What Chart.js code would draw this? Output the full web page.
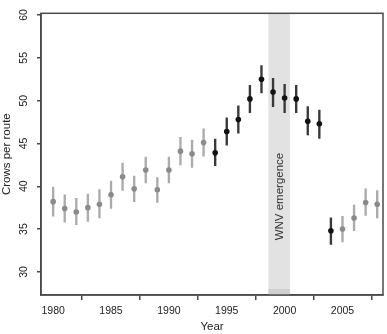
<!DOCTYPE html>
<html>
<head>
<meta charset="utf-8">
<script src="https://cdn.jsdelivr.net/npm/chart.js@4.4.0/dist/chart.umd.min.js"></script>
<style>
  html, body { margin: 0; padding: 0; background: #fff; }
  #wrap { width: 387px; height: 334px; }
</style>
</head>
<body>
<div id="wrap"><canvas id="crowChart" width="387" height="334"></canvas></div>
<script>
// Survey years and estimated crows per route (point, lower, upper)
const years = [1980, 1981, 1982, 1983, 1984, 1985, 1986, 1987, 1988, 1989,
               1990, 1991, 1992, 1993, 1994, 1995, 1996, 1997, 1998, 1999,
               2000, 2001, 2002, 2003, 2004, 2005, 2006, 2007, 2008];
const crows = [38.2, 37.4, 37.0, 37.5, 37.9, 39.0, 41.1, 39.7, 41.9, 39.6,
               41.9, 44.1, 43.8, 45.1, 43.9, 46.4, 47.8, 50.2, 52.5, 51.0,
               50.3, 50.2, 47.6, 47.3, 34.8, 35.0, 36.3, 38.1, 37.9];
const lower = [36.5, 35.8, 35.5, 35.9, 36.3, 37.4, 39.5, 38.2, 40.4, 38.1,
               40.4, 42.5, 42.2, 43.5, 42.4, 44.8, 46.2, 48.6, 50.9, 49.3,
               48.6, 48.6, 46.0, 45.6, 33.2, 33.5, 34.8, 36.6, 36.3];
const upper = [39.9, 39.0, 38.6, 39.1, 39.6, 40.6, 42.7, 41.2, 43.4, 41.0,
               43.4, 45.7, 45.4, 46.7, 45.5, 48.0, 49.4, 51.8, 54.1, 52.6,
               51.9, 51.8, 49.3, 48.9, 36.3, 36.5, 37.8, 39.7, 39.5];
// years drawn in black
const blackYears = [1994, 1995, 1996, 1997, 1998, 1999, 2000, 2001, 2002, 2003, 2004];

const xTicks = [1980, 1985, 1990, 1995, 2000, 2005];
const yTicks = [30, 35, 40, 45, 50, 55, 60];

// WNV emergence band (years)
const wnvBand = [1998.6, 2000.45];
const wnvLabel = 'WNV emergence';

const FONT = "'Liberation Sans', Arial, Helvetica, sans-serif";
const AXIS_COLOR = '#4a4a4a';

const isBlack = years.map(y => blackYears.includes(y));
const pointColors = isBlack.map(b => b ? '#111111' : '#8a8a8a');
const barColors = isBlack.map(b => b ? '#383838' : '#ababab');

// Shaded band behind the data, with its label, and the box round the plot
const bandPlugin = {
    id: 'bandPlugin',
    beforeDatasetsDraw(chart) {
        const { ctx, chartArea, scales: { x, y } } = chart;
        const x0 = x.getPixelForValue(wnvBand[0]);
        const x1 = x.getPixelForValue(wnvBand[1]);
        ctx.save();
        ctx.fillStyle = '#e2e2e2';
        ctx.fillRect(x0, chartArea.top, x1 - x0, chartArea.bottom - chartArea.top);
        ctx.fillStyle = '#cfcfcf';
        ctx.fillRect(x0, chartArea.bottom - 6, x1 - x0, 5);
        // label
        ctx.translate((x0 + x1) / 2 + 1, y.getPixelForValue(38.8));
        ctx.rotate(-Math.PI / 2);
        ctx.fillStyle = '#333';
        ctx.font = '11.5px ' + FONT;
        ctx.textAlign = 'center';
        ctx.textBaseline = 'middle';
        ctx.fillText(wnvLabel, 0, 0);
        ctx.restore();
    },
    afterDraw(chart) {
        const { ctx, chartArea } = chart;
        ctx.save();
        ctx.strokeStyle = AXIS_COLOR;
        ctx.lineWidth = 1.5;
        ctx.strokeRect(chartArea.left, chartArea.top,
            chartArea.right - chartArea.left, chartArea.bottom - chartArea.top);
        ctx.restore();
    }
};

const ctx = document.getElementById('crowChart').getContext('2d');
new Chart(ctx, {
    type: 'scatter',
    data: {
        datasets: [
            {
                type: 'bar',
                label: 'interval',
                data: years.map((yr, i) => ({ x: yr, y: [lower[i], upper[i]] })),
                backgroundColor: barColors,
                barThickness: 1.7,
                grouped: false,
                order: 2
            },
            {
                type: 'scatter',
                label: 'crows',
                data: years.map((yr, i) => ({ x: yr, y: crows[i] })),
                pointBackgroundColor: pointColors,
                pointBorderWidth: 0,
                pointRadius: 2.8,
                order: 1
            }
        ]
    },
    options: {
        responsive: false,
        animation: false,
        layout: { padding: { top: 3, right: 3, left: 0, bottom: 0 } },
        plugins: {
            legend: { display: false },
            tooltip: { enabled: false }
        },
        scales: {
            x: {
                type: 'linear',
                min: 1978.95,
                max: 2008.5,
                offset: false,
                afterBuildTicks: scale => { scale.ticks = xTicks.map(v => ({ value: v })); },
                afterFit: scale => { scale.height = 39; },
                grid: { drawOnChartArea: false, drawTicks: true, tickLength: 5, color: AXIS_COLOR, lineWidth: 1.5 },
                border: { display: true, color: AXIS_COLOR, width: 1.5 },
                ticks: {
                    color: '#222',
                    padding: 5,
                    maxRotation: 0,
                    font: { family: FONT, size: 10.5 },
                    callback: v => String(v)
                },
                title: {
                    display: true,
                    text: 'Year',
                    color: '#222',
                    font: { family: FONT, size: 11.5, lineHeight: 1.1 },
                    padding: { top: 0, bottom: 1 }
                }
            },
            y: {
                min: 27.3,
                max: 60.2,
                afterBuildTicks: scale => { scale.ticks = yTicks.map(v => ({ value: v })); },
                afterFit: scale => { scale.width = 41; },
                grid: { drawOnChartArea: false, drawTicks: true, tickLength: 4, color: AXIS_COLOR, lineWidth: 1.5 },
                border: { display: true, color: AXIS_COLOR, width: 1.5 },
                ticks: {
                    color: '#222',
                    padding: 7,
                    minRotation: 90,
                    maxRotation: 90,
                    crossAlign: 'center',
                    font: { family: FONT, size: 10.5 }
                },
                title: {
                    display: true,
                    text: 'Crows per route',
                    color: '#222',
                    font: { family: FONT, size: 11.5, lineHeight: 1 },
                    padding: { top: 1, bottom: 0 }
                }
            }
        }
    },
    plugins: [bandPlugin]
});
</script>
</body>
</html>
